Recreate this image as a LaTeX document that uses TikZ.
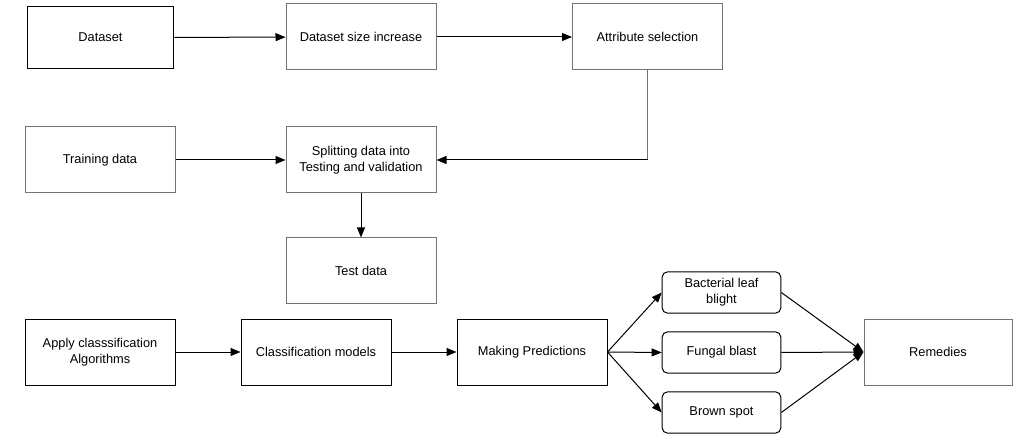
\documentclass[tikz,border=0pt]{standalone}
\usepackage{fontspec}
\setmainfont{Liberation Sans}
\usepackage{tikz}
\usetikzlibrary{arrows.meta}

\begin{document}
\begin{tikzpicture}[x=0.75pt, y=-0.75pt,
    every path/.style={line width=0.75pt},
    blk/.style={draw=black, minimum width=112.5pt, minimum height=49.5pt, inner sep=0pt, align=center, font=\fontsize{9.6}{12}\selectfont},
    gry/.style={blk, draw=black!55},
    pill/.style={blk, minimum width=89pt, minimum height=31pt, rounded corners=4pt},
    arr/.style={-{Triangle[length=7.5pt, width=6pt]}}]

    \useasboundingbox (0,0) rectangle (1029,442);

    % first row
    \node[blk, minimum width=110pt, minimum height=47pt] (data) at (100.5,37.5) {Dataset};
    \node[gry] (grow) at (361,37) {Dataset size increase};
    \node[gry] (attr) at (647.5,37) {Attribute selection};

    % splitting
    \node[gry] (train) at (100,160) {Training data};
    \node[gry] (split) at (361,160) {Splitting data into\\Testing and validation};
    \node[gry] (test) at (361,271) {Test data};

    % last row
    \node[blk] (apply) at (100,352) {Apply classsification\\Algorithms};
    \node[blk] (model) at (316,352) {Classification models};
    \node[blk] (pred) at (532,352) {Making Predictions};

    \node[pill] (blb) at (721.5,292.5) {Bacterial leaf\\blight};
    \node[pill] (fb) at (721.5,352.5) {Fungal blast};
    \node[pill] (bs) at (721.5,412.5) {Brown spot};

    \node[gry, minimum width=111pt] (rem) at (938,352) {Remedies};

    \draw[arr] (data) -- (grow);
    \draw[arr] (grow) -- (attr);
    \coordinate (bend) at (attr.south |- split.east);
    \draw[draw=black!55] (attr.south) -- (bend);
    \draw[arr] (bend) -- (split.east);
    \draw[arr] (train) -- (split);
    \draw[arr] (split) -- (test);

    \draw[arr] (apply) -- (model);
    \draw[arr] (model) -- (pred);

    \draw[arr] (pred.east) -- (blb.west);
    \draw[arr] (pred.east) -- (fb.west);
    \draw[arr] (pred.east) -- (bs.west);

    \draw[arr] (blb.east) -- (rem.west);
    \draw[arr] (fb.east) -- (rem.west);
    \draw[arr] (bs.east) -- (rem.west);

\end{tikzpicture}
\end{document}
